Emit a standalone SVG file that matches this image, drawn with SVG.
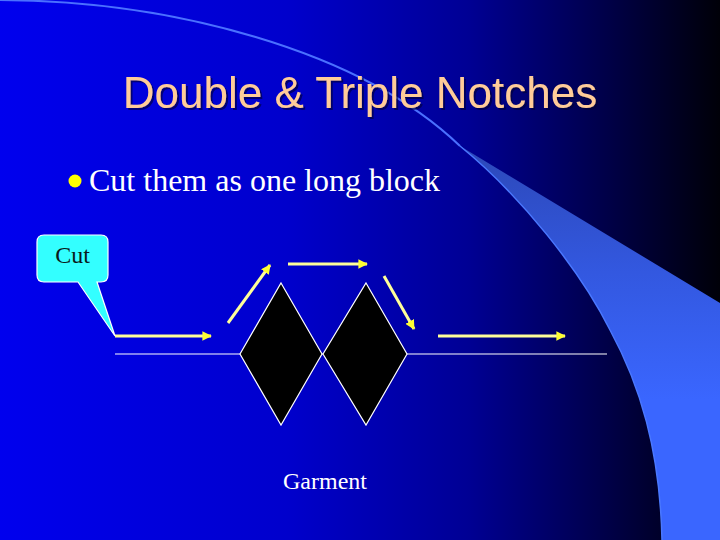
<svg xmlns="http://www.w3.org/2000/svg" width="720" height="540" viewBox="0 0 720 540">
<defs>
<linearGradient id="bg" x1="0" y1="0" x2="1" y2="0">
<stop offset="0" stop-color="#0000ee"/>
<stop offset="0.4" stop-color="#0000cc"/>
<stop offset="0.65" stop-color="#000094"/>
<stop offset="0.85" stop-color="#000045"/>
<stop offset="1" stop-color="#000008"/>
</linearGradient>
<linearGradient id="band" x1="0" y1="146" x2="0" y2="400" gradientUnits="userSpaceOnUse">
<stop offset="0" stop-color="#2c48b8"/>
<stop offset="0.5" stop-color="#3358e0"/>
<stop offset="1" stop-color="#3a66ff"/>
</linearGradient>
<filter id="shadow" x="-5%" y="-20%" width="110%" height="140%">
<feDropShadow dx="2" dy="2" stdDeviation="0.6" flood-color="#000030" flood-opacity="0.6"/>
</filter>
<marker id="ah" viewBox="0 0 10 10" refX="9" refY="5" markerWidth="3.2" markerHeight="3.2" orient="auto" markerUnits="strokeWidth">
<path d="M0,0 L10,5 L0,10 Z" fill="#ffff33"/>
</marker>
<style>
.arrow{stroke:#ffff99;stroke-width:3;fill:none;marker-end:url(#ah)}
.diam{fill:#000000;stroke:#ffffff;stroke-width:1.2}
.serif{font-family:"Liberation Serif","Times New Roman",serif}
</style>
</defs>
<rect width="720" height="540" fill="url(#bg)"/>
<path d="M-5,0 C170,0 360,50 460,146" fill="none" stroke="#4a70ff" stroke-width="2"/>
<path d="M460,146 L720,303 L720,540 L662,540 C660,450 640,385 610,330 C580,270 520,195 460,146 Z" fill="url(#band)"/>
<path d="M662,540 C660,450 640,385 610,330 C580,270 520,195 460,146" fill="none" stroke="#4a78ff" stroke-width="1.5"/>
<g id="title">
<text x="360" y="108" text-anchor="middle" font-family="Liberation Sans, Arial, sans-serif" font-size="44" fill="#ffcc99" filter="url(#shadow)">Double &amp; Triple Notches</text>
</g>
<g id="bullet">
<circle cx="75" cy="181" r="6.5" fill="#ffff00"/>
<text x="89" y="191" class="serif" font-size="32" fill="#ffffff">Cut them as one long block</text>
</g>
<g id="connectors">
<line x1="115" y1="354" x2="607" y2="354" stroke="#ffffff" stroke-width="1.2"/>
<line class="arrow" x1="115" y1="336" x2="211" y2="336"/>
<line class="arrow" x1="228" y1="323" x2="270" y2="265"/>
<line class="arrow" x1="288" y1="264" x2="367" y2="264"/>
<line class="arrow" x1="384" y1="276" x2="414" y2="329"/>
<line class="arrow" x1="438" y1="336" x2="565" y2="336"/>
</g>
<g id="notch1">
<polygon class="diam" points="281,283 322,354 281,425 240,354"/>
</g>
<g id="notch2">
<polygon class="diam" points="366,283 407,354 366,425 323,354"/>
</g>
<g id="callout">
<path d="M44,235 H101 Q108,235 108,242 V275 Q108,282 101,282 H97 L115,336 L78,282 H44 Q37,282 37,275 V242 Q37,235 44,235 Z" fill="#33ffff" stroke="#ffffff" stroke-width="1.2"/>
<text x="72.5" y="263" text-anchor="middle" class="serif" font-size="24" fill="#0a1a1a">Cut</text>
</g>
<g id="garment">
<text x="325" y="489" text-anchor="middle" class="serif" font-size="24" fill="#ffffff">Garment</text>
</g>
</svg>
